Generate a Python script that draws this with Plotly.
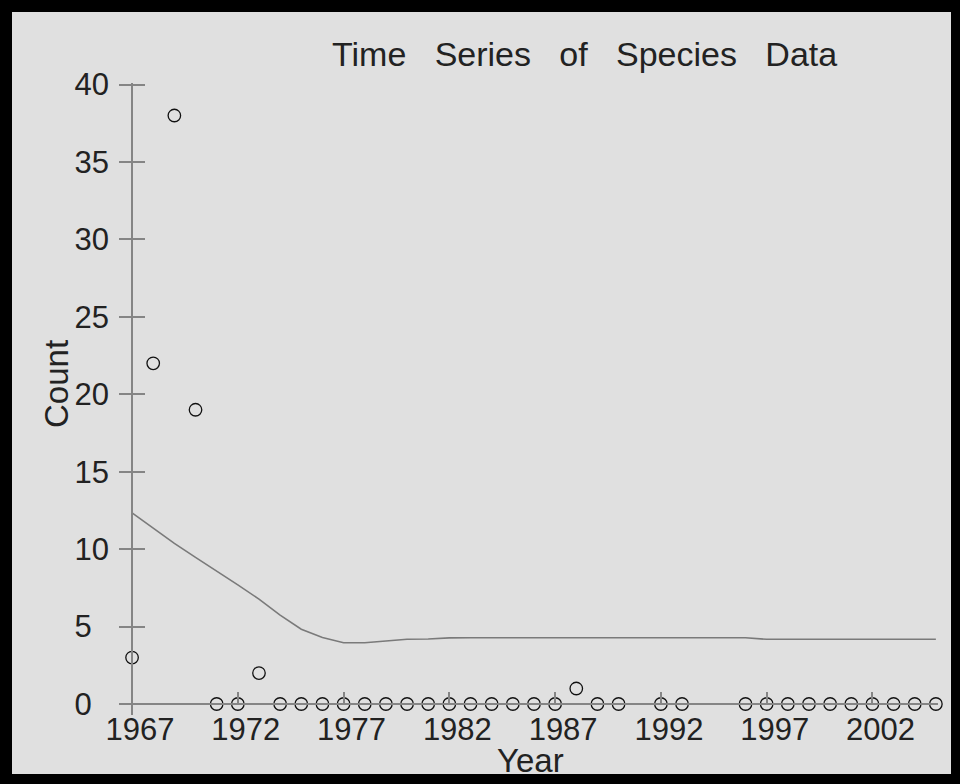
import plotly.graph_objects as go

# ---- data ----
obs_years = [1967, 1968, 1969, 1970, 1971, 1972, 1973, 1974, 1975, 1976, 1977,
             1978, 1979, 1980, 1981, 1982, 1983, 1984, 1985, 1986, 1987, 1988,
             1989, 1990, 1992, 1993, 1996, 1997, 1998, 1999, 2000, 2001, 2002,
             2003, 2004, 2005]
obs_counts = [3, 22, 38, 19, 0, 0, 2, 0, 0, 0, 0,
              0, 0, 0, 0, 0, 0, 0, 0, 0, 0, 1,
              0, 0, 0, 0, 0, 0, 0, 0, 0, 0, 0,
              0, 0, 0]

trend_years = list(range(1967, 2006))
trend_values = [12.34, 11.35, 10.37, 9.47, 8.59, 7.69, 6.77, 5.74, 4.83, 4.29,
                3.96, 3.96, 4.07, 4.18, 4.20, 4.27, 4.28, 4.28, 4.28, 4.28,
                4.28, 4.28, 4.28, 4.28, 4.28, 4.28, 4.28, 4.28, 4.28, 4.28,
                4.18, 4.18, 4.18, 4.18, 4.18, 4.18, 4.18, 4.18, 4.18]

x_tick_vals = [1967, 1972, 1977, 1982, 1987, 1992, 1997, 2002]
y_tick_vals = [0, 5, 10, 15, 20, 25, 30, 35, 40]

title_text = "Time\u00a0\u00a0\u00a0Series\u00a0\u00a0\u00a0of\u00a0\u00a0\u00a0Species\u00a0\u00a0\u00a0Data"

# ---- layout geometry ----
W, H = 960, 784
L, R, T, B = 120, 22, 83, 69
x_range = [1966.43, 2005.1]
y_range = [-0.71, 40.1]
y_axis_pos = (1967 - x_range[0]) / (x_range[1] - x_range[0])
x_axis_pos = (0 - y_range[0]) / (y_range[1] - y_range[0])
pw, ph = W - L - R, H - T - B

FONT = "Liberation Sans"
AXIS_COL = "#858585"
TXT = "#222222"

fig = go.Figure()
fig.add_trace(go.Scatter(
    x=trend_years, y=trend_values, mode="lines",
    line=dict(color="#7a7a7a", width=1.6), showlegend=False, hoverinfo="skip"))
fig.add_trace(go.Scatter(
    x=obs_years, y=obs_counts, mode="markers",
    marker=dict(symbol="circle-open", size=12.5, color="#111111",
                line=dict(color="#111111", width=1.3)),
    cliponaxis=False, showlegend=False))
# invisible trace on the overlay axis so it renders
fig.add_trace(go.Scatter(x=[1967], y=[0], yaxis="y2", mode="markers",
                         marker=dict(opacity=0), showlegend=False, hoverinfo="skip"))

y_tick_text = [f"{v}\u2007" if v < 10 else f"{v}" for v in y_tick_vals]

fig.update_layout(
    width=W, height=H,
    margin=dict(l=L, r=R, t=T, b=B, pad=0),
    paper_bgcolor="black",
    plot_bgcolor="rgba(0,0,0,0)",
    font=dict(family=FONT, color=TXT),
    xaxis=dict(
        range=x_range, anchor="free", position=x_axis_pos,
        showgrid=False, zeroline=False,
        showline=True, linecolor=AXIS_COL, linewidth=1.5,
        tickmode="array", tickvals=x_tick_vals,
        ticktext=[str(v) for v in x_tick_vals],
        ticks="inside", ticklen=11, tickcolor=AXIS_COL, tickwidth=1.5,
        tickfont=dict(family=FONT, size=31, color=TXT),
        ticklabelshift=8, ticklabelstandoff=-2,
    ),
    yaxis=dict(
        range=y_range, anchor="free", position=y_axis_pos,
        showgrid=False, zeroline=False,
        showline=True, linecolor=AXIS_COL, linewidth=1.5,
        tickmode="array", tickvals=y_tick_vals, ticktext=y_tick_text,
        ticks="outside", ticklen=12, tickcolor=AXIS_COL, tickwidth=1.5,
        tickfont=dict(family=FONT, size=31, color=TXT),
        ticklabelstandoff=4,
    ),
    yaxis2=dict(
        range=y_range, overlaying="y", anchor="free", position=y_axis_pos,
        showgrid=False, zeroline=False, showline=False,
        tickmode="array", tickvals=y_tick_vals, showticklabels=False,
        ticks="inside", ticklen=12, tickcolor=AXIS_COL, tickwidth=1.5,
    ),
    shapes=[dict(
        type="rect", xref="paper", yref="paper", layer="below",
        x0=(12 - L) / pw, x1=(951 - L) / pw,
        y0=(H - B - 774) / ph, y1=(H - B - 12) / ph,
        fillcolor="#e0e0e0", line=dict(width=0))],
    annotations=[
        dict(text=title_text, xref="paper", yref="paper",
             x=(584 - L) / pw, y=(H - B - 54) / ph,
             xanchor="center", yanchor="middle", showarrow=False,
             font=dict(family=FONT, size=34, color=TXT)),
        dict(text="Count", xref="paper", yref="paper",
             x=(56 - L) / pw, y=(H - B - 384) / ph, textangle=-90,
             xanchor="center", yanchor="middle", showarrow=False,
             font=dict(family=FONT, size=33, color=TXT)),
        dict(text="Year", xref="paper", yref="paper",
             x=(530 - L) / pw, y=(H - B - 760) / ph,
             xanchor="center", yanchor="middle", showarrow=False,
             font=dict(family=FONT, size=33, color=TXT)),
    ],
)

fig.write_html(
    "out.html",
    config={"displayModeBar": False},
    post_script="document.body.style.margin='0px';"
                "document.body.style.backgroundColor='black';",
)
